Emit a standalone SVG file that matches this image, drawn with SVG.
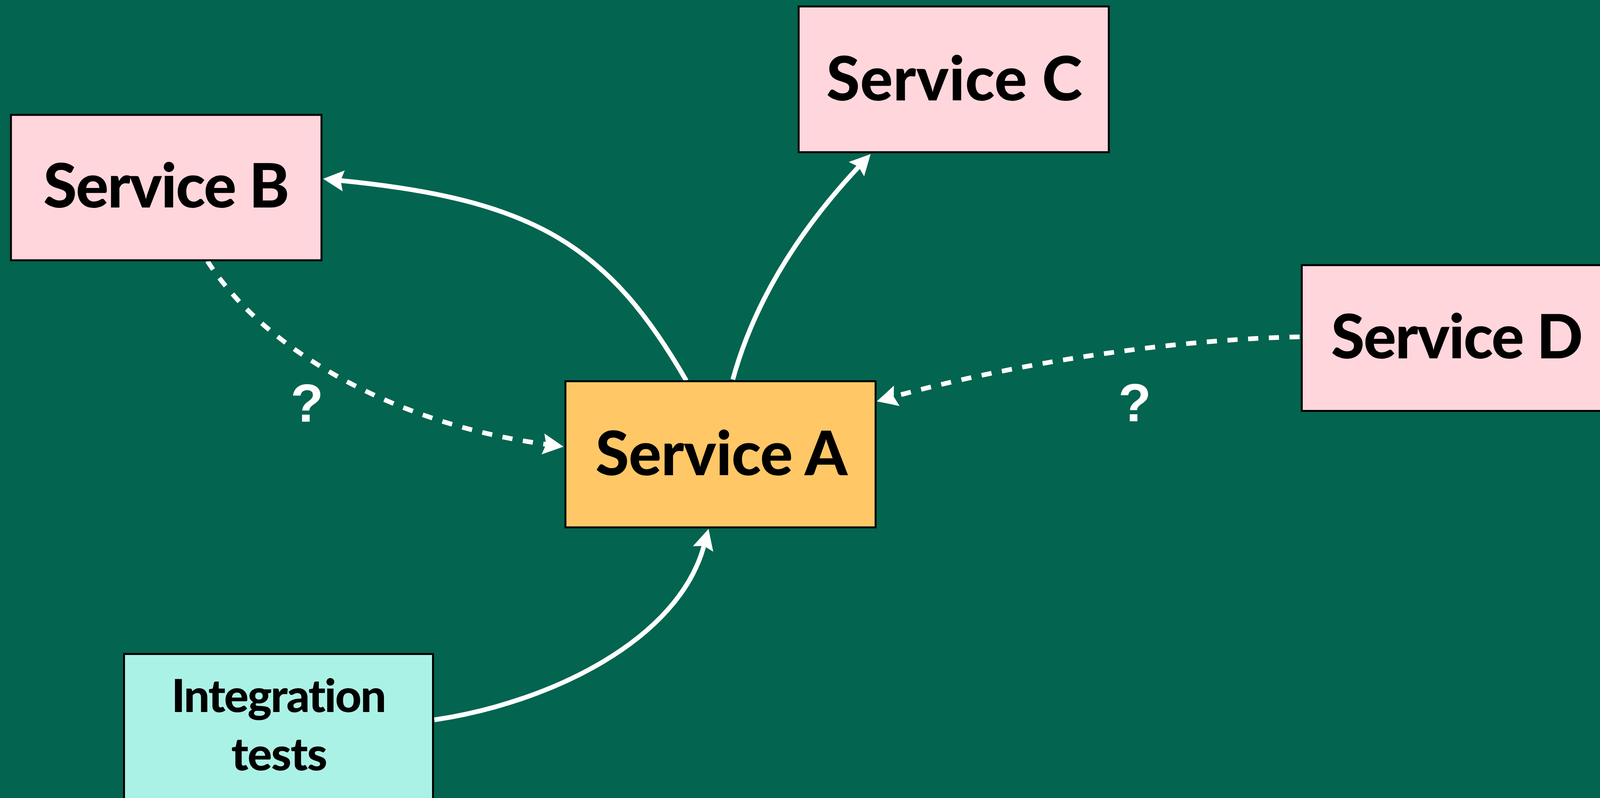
<svg xmlns="http://www.w3.org/2000/svg" width="4149" height="2042" viewBox="0 0 4149 2042">
<style>
.node{stroke:#000;stroke-width:5}
.pink{fill:#FFD6DB}
.orange{fill:#FFC766}
.cyan{fill:#ABF2E6}
.label{font-family:Lato,"Liberation Sans",Arial,sans-serif;font-weight:900;fill:#000;text-anchor:middle;font-variant-ligatures:none;font-feature-settings:"liga" 0,"clig" 0,"dlig" 0}
.big{font-size:156px}
.small{font-size:117px}
.q{font-family:"Liberation Sans",Arial,sans-serif;font-weight:bold;font-size:138px;fill:#fff;text-anchor:middle}
.conn{fill:none;stroke:#fff;stroke-width:12}
.dash{stroke-dasharray:26 27}
</style>
<defs>
<marker id="arrow" markerUnits="userSpaceOnUse" markerWidth="120" markerHeight="120" refX="0" refY="0" orient="auto" overflow="visible" viewBox="-60 -60 120 120">
<path d="M45,0 L-8,-27 L0,0 L-8,27 Z" fill="#fff"/>
</marker>
</defs>
<rect width="4149" height="2042" fill="#03644F"/>
<g id="connectors">
<path class="conn" d="M1757,974 C1557,628 1369,511 872,462" marker-end="url(#arrow)"/>
<path class="conn" d="M1876,971 C1937,749 2068,566 2198,427" marker-end="url(#arrow)"/>
<path class="conn" d="M1112,1842 C1409,1798 1736,1638 1802,1397" marker-end="url(#arrow)"/>
<path class="conn dash" d="M531,668 C682,903 1021,1087 1398,1137" marker-end="url(#arrow)"/>
<path class="conn dash" d="M3327,862 C2977,869 2577,935 2288,1015" marker-end="url(#arrow)"/>
<text class="q" x="786" y="1079">?</text>
<text class="q" x="2905" y="1078">?</text>
</g>
<g id="service-b">
<rect class="node pink" x="28" y="294" width="795" height="372"/>
<text class="label big" x="426" y="531" textLength="630">Service B</text>
</g>
<g id="service-a">
<rect class="node orange" x="1447.5" y="975.5" width="794" height="374"/>
<text class="label big" x="1847" y="1216" textLength="645">Service A</text>
</g>
<g id="service-c">
<rect class="node pink" x="2044.5" y="16.5" width="794" height="373"/>
<text class="label big" x="2443" y="257" textLength="655">Service C</text>
</g>
<g id="service-d">
<rect class="node pink" x="3332.5" y="678.5" width="794" height="373"/>
<text class="label big" x="3730" y="917" textLength="645">Service D</text>
</g>
<g id="integration-tests">
<rect class="node cyan" x="317.5" y="1673.5" width="791" height="400"/>
<text class="label small" x="714" y="1822" textLength="550">Integration</text>
<text class="label small" x="715" y="1971" textLength="246">tests</text>
</g>
</svg>
